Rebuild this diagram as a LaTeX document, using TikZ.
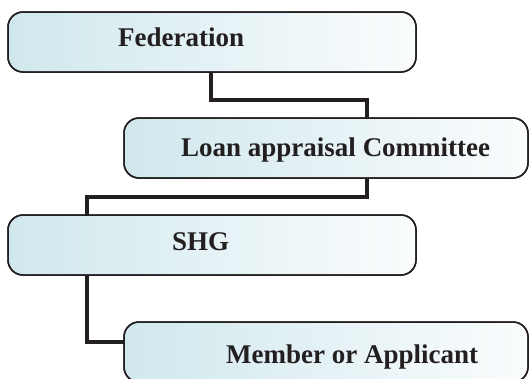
\documentclass[tikz,border=0pt]{standalone}
\usepackage{fontspec}
\setmainfont{Liberation Serif}
\definecolor{boxleft}{RGB}{208,232,237}
\definecolor{boxright}{RGB}{250,252,253}
\definecolor{ink}{RGB}{35,31,32}
\tikzset{
  stage/.style={draw=ink, line width=1.5pt, rounded corners=15pt,
    left color=boxleft, right color=boxright, shading angle=90,
    inner sep=0pt, outer sep=0pt, minimum height=60pt},
  wide/.style={stage, minimum width=408pt},
  narrow/.style={stage, minimum width=404pt},
  caption/.style={anchor=base west, inner sep=0pt, text=ink,
    font=\fontsize{27}{32}\selectfont\bfseries},
  conn/.style={draw=ink, line width=3.6pt}
}
\begin{document}
\begin{tikzpicture}[x=1pt,y=-1pt]
  \clip (0,0) rectangle (529,378);
  \useasboundingbox (0,0) rectangle (529,378);

  % bends of the connectors
  \coordinate (k1) at (211,100);
  \coordinate (k2) at (367,100);
  \coordinate (k3) at (367,197);
  \coordinate (k4) at (87,197);
  \coordinate (k5) at (87,342);

  % boxes (placed first so connectors can refer to them)
  \node[wide]   (fed) at (212,42)  {};
  \node[narrow] (lac) at (326,148) {};
  \node[wide]   (shg) at (212,245) {};
  \node[narrow] (mem) at (326,352) {};

  % connectors
  \draw[conn] (fed.south -| k1) -- (k1) -- (k2) -- (lac.north -| k2);
  \draw[conn] (lac.south -| k3) -- (k3) -- (k4) -- (shg.north -| k4);
  \draw[conn] (shg.south -| k5) -- (k5) -- (mem.west |- k5);

  % redraw box outlines over connector ends
  \foreach \b in {fed,lac,shg,mem}
    \draw[draw=ink, line width=1.5pt, rounded corners=15pt]
      (\b.south west) rectangle (\b.north east);

  % captions
  \node[caption] (tfed) at (118,46)  {Federation};
  \node[caption] (tlac) at (181,156) {Loan appraisal Committee};
  \node[caption] (tshg) at (172,250) {SHG};
  \node[caption] (tmem) at (226,363) {Member or Applicant};
\end{tikzpicture}
\end{document}
